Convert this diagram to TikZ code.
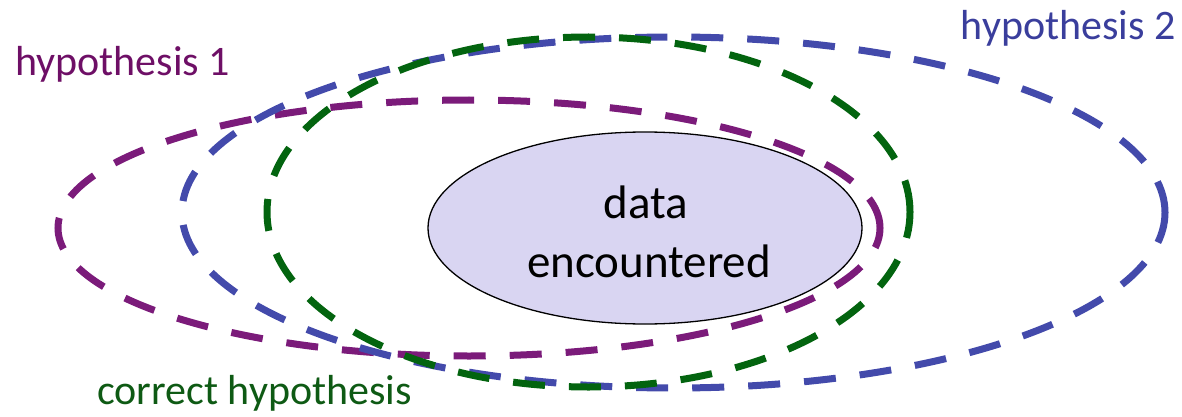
\documentclass[tikz,border=0pt]{standalone}
\usepackage{fontspec}
\setmainfont{Carlito}
\usetikzlibrary{shapes.geometric}
\definecolor{hypA}{HTML}{7B1B7A}
\definecolor{hypB}{HTML}{434AAB}
\definecolor{hypC}{HTML}{03640F}
\definecolor{hypAtext}{HTML}{6E0F66}
\definecolor{hypBtext}{HTML}{3A3E9C}
\definecolor{hypCtext}{HTML}{0E5A14}
\definecolor{datafill}{HTML}{D9D5F2}
\tikzset{
  region/.style={ellipse, draw, line width=7pt, dash pattern=on 32pt off 24pt, inner sep=0pt},
  caption/.style={font=\fontsize{42}{50}\selectfont, inner sep=0pt},
  datalabel/.style={font=\fontsize{47}{59}\selectfont, inner sep=0pt, anchor=base}
}
\begin{document}
\begin{tikzpicture}[x=1pt, y=-1pt]
  \useasboundingbox (0,0) rectangle (1182,417);
  % hypothesis regions
  \node[region, hypA, minimum width=822pt, minimum height=256pt] (h1) at (469,228) {};
  \node[region, hypB, minimum width=983pt, minimum height=351pt] (h2) at (673.5,212.5) {};
  \node[region, hypC, minimum width=643pt, minimum height=350pt] (hc) at (588.5,212) {};
  % observed data
  \node[ellipse, draw=black, line width=1.3pt, fill=datafill, minimum width=434pt, minimum height=192pt, inner sep=0pt] (data) at (645,228) {};
  \node[datalabel] (dataA) at (646,218) {data};
  \node[datalabel] (dataB) at (649,277) {encountered};
  % captions
  \node[caption, hypAtext, anchor=base west] (l1) at (15,76) {hypothesis 1};
  \node[caption, hypBtext, anchor=base east] (l2) at (1176,40) {hypothesis 2};
  \node[caption, hypCtext, anchor=base west] (lc) at (97,404) {correct hypothesis};
\end{tikzpicture}
\end{document}
